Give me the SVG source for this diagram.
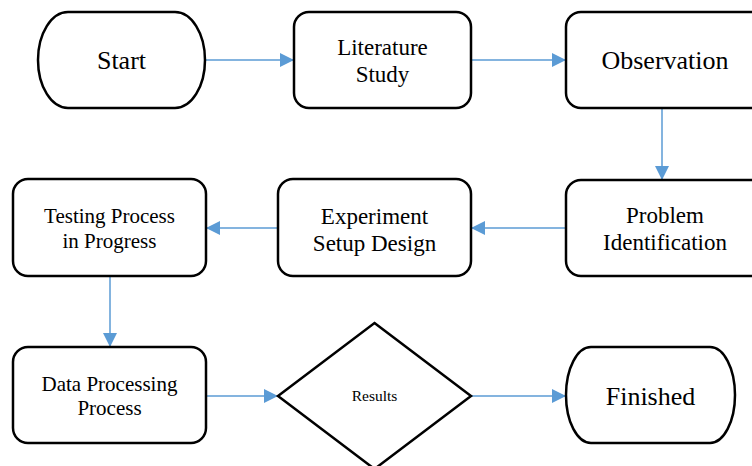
<svg xmlns="http://www.w3.org/2000/svg" width="752" height="466" viewBox="0 0 752 466">
<defs>
<style>
.n{fill:#fff;stroke:#000;stroke-width:2.5}
.t{font-family:"Liberation Serif","Times New Roman",serif;fill:#000;text-anchor:middle}
.c{stroke:#5B9BD5;stroke-width:1.5;fill:none;marker-end:url(#ah)}
</style>
<marker id="ah" viewBox="0 0 14 14" refX="14" refY="7" markerWidth="14" markerHeight="14" markerUnits="userSpaceOnUse" orient="auto">
<path d="M0,0 L14,7 L0,14 Z" fill="#5B9BD5"/>
</marker>
</defs>
<rect width="752" height="466" fill="#fff"/>
<g id="connectors">
<line class="c" x1="205" y1="60" x2="294" y2="60"/>
<line class="c" x1="471" y1="60" x2="566" y2="60"/>
<line class="c" x1="662" y1="108" x2="662" y2="180"/>
<line class="c" x1="566" y1="228" x2="471" y2="228"/>
<line class="c" x1="278" y1="228" x2="206" y2="228"/>
<line class="c" x1="110" y1="276" x2="110" y2="347"/>
<line class="c" x1="206" y1="396" x2="278" y2="396"/>
<line class="c" x1="471" y1="396" x2="566" y2="396"/>
</g>
<g id="start">
<path class="n" d="M68,12 H175 A30,48 0 0 1 175,108 H68 A30,48 0 0 1 68,12 Z"/>
<text class="t" x="121.5" y="69" font-size="26">Start</text>
</g>
<g id="literature">
<rect class="n" x="294" y="12" width="177" height="96" rx="15"/>
<text class="t" x="382.5" y="55" font-size="23">Literature</text>
<text class="t" x="382.5" y="82" font-size="23">Study</text>
</g>
<g id="observation">
<rect class="n" x="566" y="12" width="200" height="96" rx="15"/>
<text class="t" x="665" y="69" font-size="26">Observation</text>
</g>
<g id="problem">
<rect class="n" x="566" y="180" width="200" height="96" rx="15"/>
<text class="t" x="665" y="223" font-size="23">Problem</text>
<text class="t" x="665" y="250" font-size="23">Identification</text>
</g>
<g id="experiment">
<rect class="n" x="278" y="179" width="193" height="97" rx="15"/>
<text class="t" x="374.5" y="224" font-size="23">Experiment</text>
<text class="t" x="374.5" y="251" font-size="23">Setup Design</text>
</g>
<g id="testing">
<rect class="n" x="13" y="179" width="193" height="97" rx="15"/>
<text class="t" x="109.5" y="223" font-size="21">Testing Process</text>
<text class="t" x="109.5" y="248" font-size="21">in Progress</text>
</g>
<g id="data">
<rect class="n" x="13" y="347" width="193" height="96" rx="15"/>
<text class="t" x="109.5" y="391" font-size="21">Data Processing</text>
<text class="t" x="109.5" y="415" font-size="21">Process</text>
</g>
<g id="results">
<path class="n" d="M374.5,323 L471,396 L374.5,469 L278,396 Z"/>
<text class="t" x="374.5" y="401" font-size="15.5">Results</text>
</g>
<g id="finished">
<path class="n" d="M591,347 H710 A25,48 0 0 1 710,443 H591 A25,48 0 0 1 591,347 Z"/>
<text class="t" x="650.5" y="405" font-size="26">Finished</text>
</g>
</svg>
